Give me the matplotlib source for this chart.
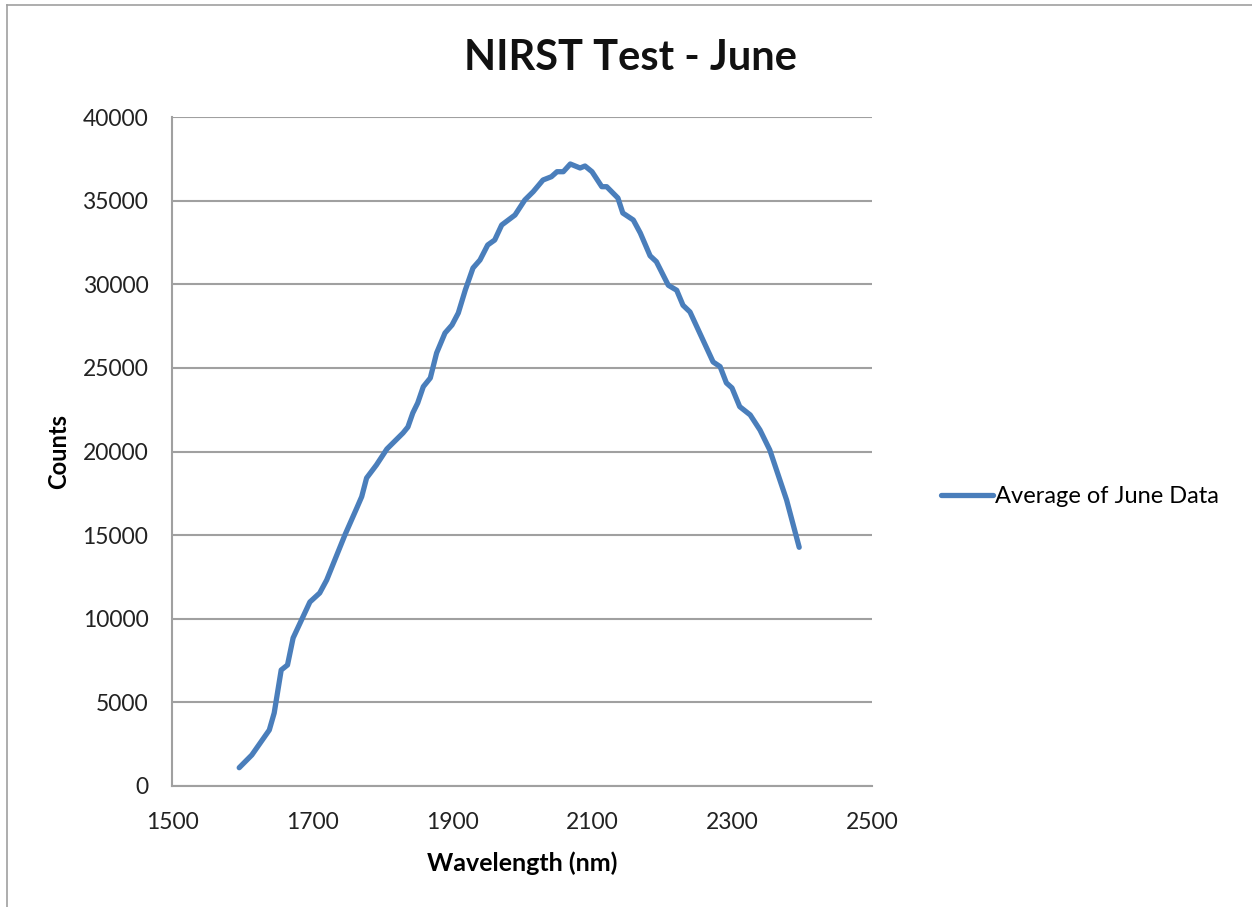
import matplotlib.pyplot as plt
from matplotlib.lines import Line2D

# Values
wavelength = [1596, 1614, 1639, 1646, 1656, 1665, 1673, 1697, 1711, 1721,
              1747, 1764, 1771, 1778, 1792, 1807, 1830, 1837, 1844, 1851,
              1859, 1869, 1878, 1890, 1900, 1909, 1919, 1930, 1940, 1951,
              1961, 1971, 1990, 2004, 2016, 2030, 2042, 2050, 2059, 2069,
              2083, 2090, 2100, 2114, 2121, 2137, 2144, 2159, 2169, 2183,
              2192, 2209, 2221, 2230, 2240, 2273, 2283, 2292, 2300, 2311,
              2326, 2340, 2354, 2378, 2396]
counts = [1094, 1853, 3348, 4365, 6936, 7235, 8849, 11002, 11540, 12317,
          15008, 16622, 17298, 18416, 19193, 20150, 21106, 21465, 22302, 22900,
          23875, 24395, 25889, 27085, 27563, 28281, 29656, 30972, 31450, 32347,
          32646, 33543, 34141, 35037, 35534, 36233, 36430, 36729, 36729, 37190,
          36951, 37070, 36729, 35833, 35833, 35157, 34260, 33842, 33064, 31700,
          31349, 29940, 29641, 28744, 28343, 25354, 25075, 24100, 23800, 22683,
          22187, 21285, 20090, 17100, 14272]

x_ticks = [1500, 1700, 1900, 2100, 2300, 2500]
y_ticks = [0, 5000, 10000, 15000, 20000, 25000, 30000, 35000, 40000]

plt.rcParams['font.family'] = ['Lato', 'DejaVu Sans']

fig = plt.figure(figsize=(12.52, 9.07), dpi=100)
ax = fig.add_axes([172/1252, 1 - 786/907, 700/1252, 669/907])

ax.plot(wavelength, counts, color="#4a7ebb", linewidth=3.8,
        solid_joinstyle="round", solid_capstyle="round",
        label="Average of June Data")

ax.set_xlim(1500, 2500)
ax.set_ylim(0, 40000)
ax.set_xticks(x_ticks)
ax.set_yticks(y_ticks)
ax.tick_params(length=0, labelsize=16.5, colors="#222222")
ax.tick_params(axis="y", pad=17)
ax.tick_params(axis="x", pad=19)
ax.grid(axis="y", color="#a0a0a0", linewidth=1.5)
ax.set_axisbelow(True)
for side in ["top", "right"]:
    ax.spines[side].set_visible(False)
for side in ["left", "bottom"]:
    ax.spines[side].set_color("#a0a0a0")
    ax.spines[side].set_linewidth(1.5)

ax.set_xlabel("Wavelength (nm)", fontsize=18, fontweight="bold", labelpad=13)
ax.set_ylabel("Counts", fontsize=17, fontweight="bold", labelpad=9)
fig.text(630/1252, 1 - 58/907, "NIRST Test - June", fontsize=30,
         fontweight="bold", ha="center", va="center", color="#111111")

leg = ax.legend(loc="center left", bbox_to_anchor=(1.068, 0.432), frameon=False,
                fontsize=17, handlelength=2.2, handletextpad=0.1)

# chart-area border (only left and top visible in the crop)
fig.add_artist(Line2D([7/1252, 7/1252], [0, 1 - 5/907], color="#a0a0a0",
                      linewidth=1.2, transform=fig.transFigure))
fig.add_artist(Line2D([7/1252, 1], [1 - 5/907, 1 - 5/907], color="#a0a0a0",
                      linewidth=1.2, transform=fig.transFigure))

plt.savefig("out.png")
